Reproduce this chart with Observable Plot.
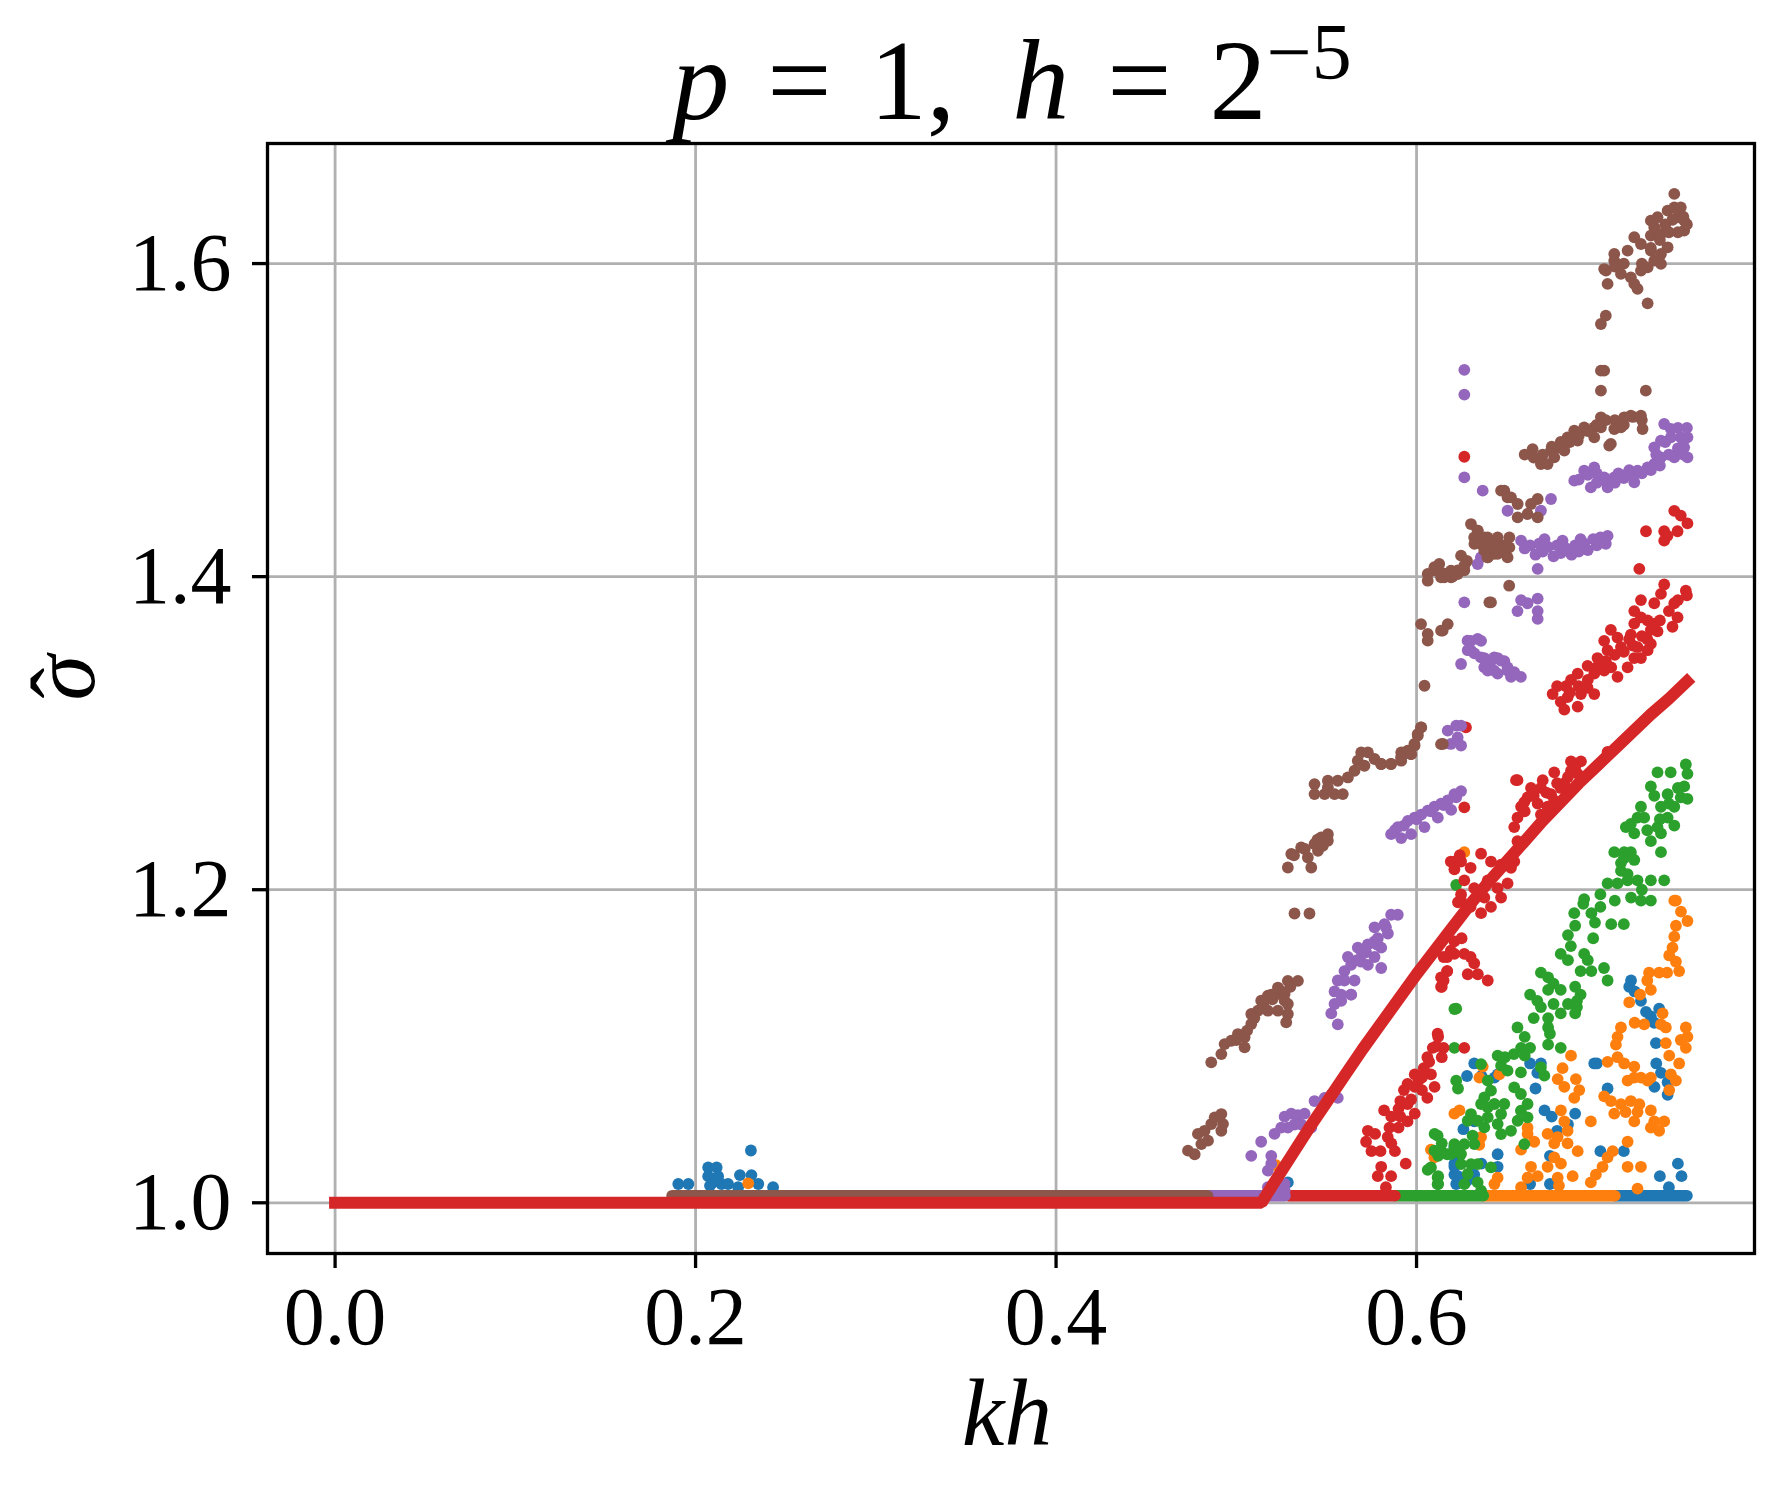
<!DOCTYPE html>
<html><head><meta charset="utf-8">
<script src="https://cdn.jsdelivr.net/npm/d3@7"></script>
<script src="https://cdn.jsdelivr.net/npm/@observablehq/plot@0.6"></script>
<style>body{margin:0;background:#fff}</style>
</head><body><div id="chart"></div>
<script>
const xTicks = [0, 0.2, 0.4, 0.6];
const yTicks = [1.0, 1.2, 1.4, 1.6];
const seriesNames = ["blue", "orange", "green", "red", "purple", "brown"];
const seriesColors = ["#1f77b4", "#ff7f0e", "#2ca02c", "#d62728", "#9467bd", "#8c564b"];
// dense runs of points sitting just above sigma = 1
const bandLevel = 1.0045;
const bandStart = [0.710, 0.637, 0.588, 0.529, 0.485, 0.187];
const bandEnd   = [0.750, 0.710, 0.637, 0.588, 0.527, 0.484];

const blue = [[0.1904,1.012],[0.196,1.012],[0.207,1.0226],[0.2117,1.0226],[0.207,1.017],[0.2125,1.017],[0.2098,1.013],[0.208,1.011],[0.2144,1.012],[0.218,1.012],[0.2236,1.010],[0.2246,1.0177],[0.231,1.0177],[0.2307,1.0334],[0.2348,1.012],[0.243,1.010],
[0.5286,1.013],[0.621,1.025],[0.621,1.018],[0.622,1.012],
[0.719,1.142],[0.718,1.138],[0.721,1.135],[0.7245,1.129],[0.7273,1.122],[0.73,1.119],[0.7319,1.115],[0.7346,1.124],[0.7328,1.102],
[0.700,1.089],[0.6986,1.089],[0.733,1.089],[0.7356,1.083],[0.7393,1.077],[0.7393,1.069],[0.706,1.073],[0.732,1.074],
[0.632,1.089],[0.628,1.081],[0.636,1.081],[0.663,1.089],[0.667,1.083],[0.666,1.073],[0.669,1.089],[0.645,1.082],[0.6432,1.080],
[0.671,1.059],[0.675,1.055],[0.678,1.046],[0.684,1.050],[0.688,1.057],[0.626,1.047],[0.632,1.052],
[0.621,1.036],[0.623,1.029],[0.621,1.023],[0.623,1.017],[0.628,1.014],[0.632,1.018],[0.636,1.025],[0.645,1.031],[0.645,1.023],
[0.663,1.012],[0.674,1.012],[0.702,1.033],[0.715,1.033],[0.745,1.025],[0.747,1.017],[0.735,1.017],[0.740,1.010],[0.674,1.030]];

const orange = [[0.522,1.024],[0.2292,1.0124],[0.6265,1.224],[0.743,1.193],
[0.7439,1.193],[0.7467,1.186],[0.7503,1.180],[0.7439,1.177],[0.743,1.170],[0.742,1.163],[0.7402,1.158],[0.7439,1.154],[0.7457,1.148],
[0.739,1.147],[0.7346,1.147],[0.729,1.147],[0.728,1.142],[0.730,1.136],[0.724,1.133],[0.718,1.128],
[0.7365,1.121],[0.7383,1.112],[0.7383,1.102],[0.7356,1.114],[0.721,1.115],[0.7263,1.114],[0.7134,1.112],[0.7115,1.106],[0.7106,1.101],
[0.7494,1.112],[0.7503,1.106],[0.7494,1.099],[0.7466,1.104],[0.7402,1.094],[0.7457,1.089],[0.7411,1.082],[0.7439,1.078],[0.7402,1.072],
[0.706,1.090],[0.7115,1.093],[0.7152,1.089],[0.7208,1.087],[0.7208,1.080],[0.7245,1.080],[0.7171,1.078],[0.7282,1.078],[0.73,1.080],
[0.7041,1.068],[0.7078,1.065],[0.7134,1.063],[0.7189,1.065],[0.7236,1.063],[0.7097,1.057],[0.716,1.058],[0.7226,1.058],[0.73,1.059],[0.7319,1.052],[0.7374,1.052],[0.7346,1.046],[0.73,1.048],[0.7208,1.052],
[0.6857,1.094],[0.681,1.086],[0.6783,1.079],[0.682,1.074],[0.6875,1.067],[0.6903,1.072],[0.6884,1.079],
[0.6801,1.059],[0.682,1.052],[0.6838,1.046],[0.6783,1.042],[0.6838,1.038],[0.6894,1.033],[0.6727,1.044],[0.6764,1.038],
[0.6967,1.052],[0.7171,1.039],[0.7088,1.033],[0.706,1.029],[0.7032,1.023],[0.6995,1.018],[0.6967,1.013],
[0.7171,1.023],[0.7245,1.023],[0.7226,1.009],[0.6764,1.029],[0.6801,1.025],[0.6727,1.023],[0.6783,1.016],[0.6866,1.017],[0.679,1.011],
[0.6635,1.023],[0.6616,1.016],[0.658,1.010],[0.6672,1.017],[0.6432,1.012],[0.645,1.016],[0.621,1.057],[0.6238,1.059],
[0.6367,1.087],[0.6349,1.080],[0.6459,1.082],[0.6616,1.044],[0.6616,1.048],[0.658,1.034],[0.6653,1.039],[0.608,1.034],[0.6099,1.029],[0.6348,1.037],[0.6358,1.042]];

const green = [[0.7494,1.280],[0.7503,1.274],[0.7485,1.266],[0.741,1.275],[0.7337,1.275],[0.73,1.266],[0.7319,1.260],[0.7393,1.261],[0.7466,1.259],[0.7503,1.258],
[0.7356,1.253],[0.743,1.253],[0.7393,1.246],[0.743,1.241],[0.7356,1.236],[0.7337,1.240],[0.73,1.231],[0.7356,1.224],
[0.7245,1.253],[0.7226,1.246],[0.7189,1.242],[0.7161,1.240],[0.7208,1.236],[0.7263,1.246],
[0.7097,1.224],[0.7152,1.224],[0.7189,1.224],[0.7208,1.219],[0.7134,1.217],[0.7134,1.212],[0.7171,1.210],[0.706,1.204],[0.7115,1.204],[0.7171,1.206],[0.7226,1.206],[0.73,1.206],[0.7374,1.206],
[0.693,1.194],[0.702,1.197],[0.715,1.22],[0.725,1.20],[0.735,1.245],[0.745,1.265],[0.740,1.255],[0.728,1.238],
[0.7245,1.193],[0.730,1.193],[0.719,1.195],[0.710,1.193],[0.702,1.189],[0.697,1.185],[0.699,1.179],[0.708,1.178],[0.715,1.178],[0.6925,1.191],[0.6875,1.185],[0.688,1.177],[0.684,1.171],[0.698,1.169],[0.6856,1.164],[0.680,1.159],[0.684,1.155],[0.693,1.159],[0.695,1.155],[0.691,1.148],[0.697,1.148],[0.704,1.150],[0.706,1.142],
[0.669,1.147],[0.673,1.144],[0.676,1.140],[0.673,1.136],[0.680,1.136],[0.688,1.138],[0.691,1.133],[0.663,1.133],[0.667,1.129],[0.676,1.127],[0.684,1.127],[0.689,1.125],[0.669,1.125],[0.665,1.118],[0.673,1.118],[0.680,1.121],[0.688,1.121],[0.689,1.129],
[0.656,1.112],[0.660,1.106],[0.663,1.099],[0.658,1.099],[0.654,1.095],[0.660,1.094],[0.673,1.112],[0.674,1.108],[0.673,1.101],[0.680,1.099],[0.649,1.093],[0.645,1.094],
[0.622,1.124],[0.621,1.099],
[0.6358,1.0886],[0.6395,1.078],[0.6413,1.0716],[0.6469,1.0876],[0.6505,1.0844],[0.6579,1.0833],[0.669,1.0865],[0.6709,1.0812],[0.6542,1.0737],[0.6579,1.0695],[0.6616,1.0631],[0.6579,1.0588],[0.6616,1.0546],[0.6561,1.0524],[0.6376,1.0673],[0.6395,1.0609],[0.6358,1.0631],[0.6432,1.0631],[0.6487,1.0631],[0.6469,1.0567],[0.645,1.0503],[0.6376,1.0482],[0.6302,1.0567],[0.6339,1.0524],[0.6284,1.0524],[0.6395,1.0546],[0.6469,1.0439],[0.6524,1.046],[0.6598,1.0375],[0.6311,1.0429],[0.6265,1.0375],[0.6247,1.0311],[0.6321,1.0375],[0.6117,1.0429],[0.6099,1.0333],[0.6136,1.0333],[0.6191,1.0311],[0.608,1.0226],[0.6117,1.0162],[0.6117,1.0119],[0.621,1.0375],[0.6247,1.0247],[0.6302,1.0247],[0.6339,1.0247],[0.6284,1.0184],[0.6265,1.0119],[0.6339,1.013],[0.6413,1.0226],[0.6358,1.0077],
[0.621,1.1238],[0.622,1.078],[0.623,1.073],[0.610,1.044],[0.614,1.038],[0.617,1.031],[0.612,1.030],[0.6062,1.021],[0.612,1.017],[0.612,1.012],[0.621,1.035],[0.622,1.203]];

const red = [[0.573,1.046],[0.572,1.039],[0.575,1.033],[0.580,1.033],[0.577,1.044],[0.584,1.042],[0.586,1.038],[0.588,1.033],[0.582,1.059],[0.586,1.055],[0.590,1.048],[0.591,1.055],[0.595,1.052],[0.599,1.057],[0.591,1.065],[0.593,1.072],[0.595,1.076],[0.599,1.082],[0.603,1.072],[0.606,1.067],[0.601,1.078],[0.604,1.086],[0.606,1.093],[0.609,1.099],[0.612,1.106],[0.608,1.082],[0.610,1.074],[0.614,1.093],[0.615,1.099],[0.599,1.074],[0.595,1.063],
[0.597,1.066],[0.603,1.080],[0.607,1.090],[0.611,1.100],[0.590,1.060],[0.585,1.048],
[0.5804,1.023],[0.5785,1.017],[0.5859,1.017],[0.583,1.010],[0.594,1.025],
[0.614,1.138],[0.621,1.218],[0.621,1.213],[0.624,1.222],[0.623,1.192],[0.619,1.161],[0.615,1.157],[0.617,1.148],[0.615,1.142],[0.621,1.167],[0.625,1.169],
[0.6247,1.193],[0.630,1.189],[0.6358,1.185],[0.6413,1.189],[0.6469,1.195],[0.6376,1.195],
[0.617,1.157],[0.621,1.159],[0.6265,1.159],[0.630,1.157],[0.632,1.153],[0.634,1.146],[0.6395,1.142],[0.6136,1.144],[0.6136,1.138],[0.617,1.148],[0.6284,1.146],
[0.6265,1.099],[0.6117,1.108],
[0.619,1.218],[0.6247,1.218],[0.630,1.214],[0.6358,1.223],[0.6413,1.218],[0.6469,1.216],[0.6524,1.214],[0.6542,1.218],[0.6265,1.206],[0.632,1.201],[0.6395,1.206],[0.645,1.201],[0.6505,1.204],[0.6247,1.197],
[0.656,1.231],[0.6542,1.240],[0.656,1.246],[0.658,1.253],[0.6616,1.259],[0.6635,1.265],[0.669,1.265],[0.6746,1.261],[0.680,1.265],[0.6672,1.255],[0.6727,1.253],[0.6764,1.257],[0.669,1.248],[0.656,1.270],[0.6764,1.275],[0.6857,1.282],[0.6912,1.282],[0.6857,1.276],[0.6894,1.274],[0.682,1.268],[0.706,1.288],[0.6598,1.256],[0.6552,1.270],
[0.665,1.260],[0.672,1.262],[0.678,1.268],[0.684,1.272],[0.660,1.250],[0.670,1.270],[0.688,1.278],
[0.6755,1.325],[0.6829,1.330],[0.6838,1.323],[0.682,1.315],[0.6894,1.317],[0.6912,1.325],[0.6949,1.329],[0.6986,1.325],[0.6894,1.338],[0.6949,1.343],[0.7004,1.348],[0.706,1.353],[0.7041,1.359],[0.7078,1.366],[0.7115,1.361],[0.7134,1.355],[0.7115,1.336],[0.7171,1.342],[0.7208,1.348],[0.7226,1.355],[0.7282,1.353],[0.7245,1.348],[0.73,1.357],[0.7189,1.363],[0.7208,1.370],[0.7245,1.374],[0.7282,1.372],[0.7319,1.370],[0.7337,1.365],[0.7208,1.378],[0.7245,1.385],[0.7319,1.383],[0.7356,1.389],[0.7374,1.395],[0.743,1.383],[0.7448,1.374],[0.7494,1.391],[0.6986,1.338],[0.7041,1.340],[0.6857,1.334],
[0.680,1.320],[0.685,1.326],[0.690,1.330],[0.695,1.334],[0.700,1.342],[0.705,1.346],[0.710,1.350],[0.715,1.352],[0.720,1.356],[0.725,1.362],[0.730,1.366],[0.735,1.372],[0.740,1.378],[0.745,1.385],[0.750,1.388],[0.678,1.330],[0.708,1.342],[0.718,1.360],[0.728,1.360],[0.742,1.368],
[0.7236,1.405],[0.7374,1.423],
[0.6265,1.4766],[0.743,1.442],[0.7466,1.439],[0.7503,1.434],[0.7374,1.429],[0.7392,1.426],[0.7448,1.429],[0.7273,1.429],
[0.6274,1.3037],[0.6265,1.2526]];

const purple = [[0.5083,1.030],[0.5138,1.039],[0.5194,1.030],[0.5212,1.044],[0.5249,1.048],[0.5268,1.055],[0.5305,1.057],[0.5342,1.056],[0.5379,1.057],[0.5434,1.065],[0.549,1.067],[0.5527,1.069],[0.5563,1.067],[0.5286,1.048],[0.5323,1.050],[0.536,1.050],[0.5416,1.048],[0.5175,1.0205],[0.5194,1.025],[0.5231,1.016],[0.5212,1.013],[0.5268,1.012],[0.5268,1.008],[0.5231,1.008],[0.5175,1.010],
[0.5582,1.133],[0.5545,1.127],[0.5527,1.121],[0.5563,1.114],[0.5637,1.133],
[0.5582,1.129],[0.5545,1.135],[0.5563,1.142],[0.56,1.148],[0.5637,1.152],[0.5619,1.157],[0.5674,1.163],[0.5693,1.161],[0.573,1.165],[0.5767,1.167],[0.5785,1.169],[0.5804,1.163],[0.5767,1.157],[0.573,1.152],[0.5804,1.150],[0.5841,1.172],[0.5822,1.178],[0.5859,1.184],[0.5896,1.184],[0.5767,1.176],[0.5693,1.154],[0.5656,1.142],[0.5637,1.133],
[0.560,1.142],[0.567,1.155],[0.572,1.160],[0.578,1.165],[0.583,1.176],
[0.5859,1.2355],[0.5896,1.240],[0.5952,1.244],[0.5989,1.246],[0.6026,1.248],[0.6062,1.2505],[0.6099,1.253],[0.6136,1.255],[0.6173,1.257],[0.621,1.261],[0.6247,1.263],[0.5915,1.233],[0.597,1.2355],[0.6044,1.240],[0.6118,1.246],[0.6192,1.251],
[0.588,1.238],[0.593,1.241],[0.600,1.245],[0.608,1.250],[0.615,1.254],[0.622,1.259],
[0.6173,1.3016],[0.622,1.3048],[0.6247,1.3048],[0.6228,1.2973],[0.619,1.2931],[0.6247,1.2921],[0.6247,1.3442],[0.6265,1.3836],
[0.6283,1.3591],[0.6339,1.3602],[0.6302,1.3527],[0.6357,1.3484],[0.6394,1.3442],[0.6431,1.3484],[0.6468,1.3463],[0.6505,1.34],[0.6431,1.34],[0.6376,1.3421],
[0.6357,1.4123],[0.6339,1.408],
[0.6302,1.359],[0.6358,1.359],[0.6284,1.353],[0.6321,1.351],[0.6376,1.348],[0.6413,1.346],[0.645,1.348],[0.6487,1.346],[0.6505,1.342],[0.6542,1.339],[0.6579,1.336],[0.6395,1.340],[0.645,1.338],[0.6524,1.336],
[0.658,1.385],[0.656,1.378],[0.6616,1.383],[0.6672,1.386],[0.6672,1.378],[0.6672,1.373],[0.6672,1.405],
[0.6265,1.5321],[0.6265,1.5163],[0.6265,1.4634],[0.6367,1.4549],[0.6746,1.4496],[0.6505,1.4421],[0.669,1.4421],
[0.658,1.423],[0.663,1.420],[0.668,1.421],[0.673,1.419],[0.678,1.420],[0.683,1.418],[0.688,1.420],[0.693,1.421],[0.698,1.424],[0.702,1.425],[0.706,1.426],[0.666,1.414],[0.676,1.413],[0.686,1.414],
[0.660,1.418],[0.670,1.416],[0.680,1.415],[0.690,1.416],[0.700,1.420],[0.695,1.417],[0.705,1.421],[0.671,1.424],[0.681,1.423],[0.691,1.424],
[0.6875,1.4613],[0.693,1.4677],[0.6986,1.4698],[0.7041,1.4634],[0.7097,1.4634],[0.7171,1.4656],[0.7226,1.4677],[0.7282,1.4698],[0.7319,1.472],[0.7356,1.4762],[0.7319,1.4826],[0.7356,1.4869],[0.7411,1.489],[0.7466,1.489],[0.7503,1.489],[0.7485,1.4826],[0.7503,1.4762],[0.743,1.4762],[0.7374,1.4975],[0.7411,1.4943],[0.6967,1.457],[0.706,1.457],[0.7208,1.4603],
[0.690,1.462],[0.695,1.465],[0.700,1.466],[0.705,1.461],[0.710,1.460],[0.715,1.463],[0.720,1.464],[0.725,1.466],[0.730,1.468],[0.735,1.471],[0.740,1.478],[0.745,1.482],[0.748,1.487],[0.738,1.486],[0.733,1.478],[0.700,1.460],[0.712,1.466],[0.718,1.468],[0.745,1.495],[0.750,1.495],[0.748,1.478]];

const brown = [[0.4732,1.0333],[0.4769,1.031],[0.4806,1.0375],[0.4787,1.044],[0.4824,1.046],[0.4861,1.0503],[0.488,1.0546],[0.4917,1.0567],[0.4926,1.0503],[0.4917,1.046],[0.4843,1.0397],
[0.4861,1.0897],[0.4917,1.095],[0.4935,1.1014],[0.4972,1.1035],[0.5009,1.1078],[0.5046,1.1057],[0.5046,1.0993],[0.5083,1.1142],[0.5083,1.1206],[0.512,1.1227],[0.5138,1.1291],[0.5175,1.1323],[0.5231,1.1334],[0.5268,1.1291],[0.5286,1.1206],[0.5277,1.1153],[0.5231,1.1227],[0.5175,1.1227],
[0.500,1.104],[0.506,1.110],[0.510,1.118],[0.515,1.125],[0.520,1.130],[0.525,1.135],[0.530,1.138],
[0.5157,1.129],[0.5194,1.133],[0.5231,1.1375],[0.5286,1.1418],[0.5342,1.1418],[0.5268,1.1333],[0.5286,1.127],
[0.5323,1.1848],[0.5406,1.1848],
[0.5286,1.2142],[0.5416,1.2142],[0.5305,1.2228],[0.536,1.227],[0.5397,1.2206],[0.5434,1.2292],[0.5471,1.2334],[0.5508,1.2355],[0.5508,1.2313],[0.5453,1.2249],
[0.532,1.222],[0.538,1.226],[0.545,1.232],[0.548,1.228],
[0.5434,1.2675],[0.5434,1.2611],[0.549,1.2611],[0.5545,1.2611],[0.5591,1.2611],[0.5508,1.2696],[0.5563,1.2696],[0.5619,1.2717],[0.5656,1.276],[0.5674,1.2824],[0.5693,1.2877],[0.573,1.2877],[0.5767,1.2835],[0.5804,1.2803],[0.5859,1.2803],[0.5915,1.2824],[0.5915,1.2877],[0.597,1.2866],[0.5989,1.2920],[0.6007,1.2984],[0.6026,1.3037],[0.6044,1.3303],[0.6146,1.2931],[0.5711,1.2792],[0.5508,1.2653],
[0.6025,1.3697],[0.6062,1.3634],[0.6062,1.3591],[0.6145,1.3655],[0.6173,1.3697],
[0.6062,1.3974],[0.6099,1.404],[0.6126,1.4081],[0.6154,1.3996],[0.6191,1.3996],[0.6228,1.404],[0.6265,1.404],[0.6247,1.4134],[0.6302,1.4336],[0.6339,1.4294],[0.6357,1.4208],[0.6394,1.4251],[0.6431,1.4208],[0.6431,1.4145],[0.6394,1.4123],[0.6468,1.4166],[0.6505,1.4123],[0.6505,1.4187],[0.6487,1.4549],[0.6524,1.4506],[0.6514,1.3942],[0.6404,1.3836],[0.632,1.4251],[0.6376,1.4166],
[0.615,1.402],[0.620,1.400],[0.628,1.410],[0.635,1.425],[0.642,1.418],[0.648,1.420],[0.645,1.425],
[0.5803,1.2803],[0.5858,1.2803],[0.5914,1.2845],[0.5951,1.2888],[0.5988,1.2931],[0.6006,1.2994],[0.6025,1.3037],[0.5969,1.2866],
[0.6339,1.4294],[0.6376,1.4251],[0.6413,1.4208],[0.645,1.4187],[0.6515,1.4251],[0.6515,1.4187],
[0.6469,1.4549],[0.6505,1.4506],[0.6561,1.4464],[0.6561,1.4379],[0.6616,1.44],[0.6672,1.4379],[0.6672,1.4496],[0.6635,1.4464],
[0.6644,1.4815],[0.669,1.4719],[0.6746,1.4805],[0.6783,1.4826],[0.6838,1.489],[0.6875,1.4933],[0.693,1.4954],[0.6986,1.4954],[0.7023,1.5018],[0.7023,1.4954],[0.6986,1.489],[0.6894,1.4869],[0.682,1.4805],[0.6727,1.4719],[0.6764,1.4762],
[0.665,1.476],[0.670,1.478],[0.675,1.483],[0.680,1.486],[0.685,1.486],[0.690,1.490],[0.695,1.493],[0.700,1.497],[0.705,1.500],[0.710,1.500],[0.715,1.497],[0.720,1.502],[0.725,1.500],[0.660,1.478],
[0.7097,1.4943],[0.7134,1.4954],[0.7078,1.4848],[0.7069,1.4837],[0.7152,1.5018],[0.7189,1.5028],[0.7245,1.5028],[0.7254,1.4943],
[0.7023,1.5188],[0.7023,1.5316],[0.7041,1.5316],[0.7272,1.5188],[0.7023,1.5614],[0.705,1.5667],[0.7282,1.5746],
[0.7051,1.5955],[0.706,1.587],[0.7134,1.5934],[0.7208,1.587],[0.7226,1.5838],[0.7189,1.5912],[0.7245,1.5955],[0.7282,1.5976],[0.7319,1.6019],[0.7356,1.5998],[0.7097,1.6061],[0.7171,1.6083],[0.7208,1.6168],[0.7245,1.6125],[0.73,1.6083],[0.73,1.6179],[0.7319,1.6232],[0.73,1.6274],[0.7337,1.6296],[0.7393,1.6338],[0.743,1.6359],[0.7466,1.6359],[0.7448,1.6296],[0.7485,1.6274],[0.7485,1.6211],[0.743,1.6445],[0.7356,1.6189],[0.7393,1.6104],[0.7356,1.6061],[0.7097,1.6019],[0.7041,1.5965],
[0.710,1.598],[0.715,1.600],[0.725,1.600],[0.730,1.610],[0.735,1.615],[0.740,1.620],[0.745,1.620],[0.748,1.630],[0.750,1.625],[0.742,1.628],[0.738,1.625],
[0.6062,1.4017],[0.6099,1.406],[0.6136,1.3996],[0.6191,1.4038],[0.6228,1.4017],[0.6265,1.407],[0.6321,1.4209],[0.6395,1.4166],[0.645,1.4145],[0.6505,1.4188],[0.6395,1.4124],[0.6413,1.3836],[0.6136,1.3655],[0.6136,1.293]];

// reference curve (thick red line)
const curveX = [0, 0.514, 0.52, 0.53, 0.54, 0.55, 0.56, 0.57, 0.58, 0.59, 0.60, 0.61, 0.62, 0.63, 0.64, 0.65, 0.66, 0.67, 0.68, 0.69, 0.70, 0.71, 0.72, 0.73, 0.74, 0.75];
const curveY = [1.0, 1.0, 1.011, 1.029, 1.047, 1.064, 1.081, 1.098, 1.114, 1.130, 1.146, 1.161, 1.176, 1.191, 1.205, 1.218, 1.231, 1.244, 1.256, 1.268, 1.279, 1.290, 1.301, 1.312, 1.322, 1.333];

const seriesPoints = [blue, orange, green, red, purple, brown];
const curve = curveX.map((x, i) => ({x, y: curveY[i]}));
const FONT = "'Liberation Serif', 'DejaVu Serif', serif";

const seriesMarks = [];
seriesNames.forEach((name, i) => {
  const c = seriesColors[i];
  seriesMarks.push(Plot.link([{x1: bandStart[i], x2: bandEnd[i], y: bandLevel}], {
    x1: "x1", x2: "x2", y1: "y", y2: "y", stroke: c, strokeWidth: 11.7, strokeLinecap: "round"
  }));
  seriesMarks.push(Plot.dot(seriesPoints[i], {x: d => d[0], y: d => d[1], r: 5.9, fill: c, stroke: "none"}));
});

const svg = Plot.plot({
  width: 1783, height: 1491,
  marginLeft: 267, marginRight: 29, marginTop: 143, marginBottom: 238,
  style: {fontFamily: FONT, fontSize: "82px", background: "white", color: "black"},
  x: {domain: [-0.0375, 0.7875], axis: null},
  y: {domain: [0.9676, 1.6767], axis: null},
  marks: [
    Plot.ruleX(xTicks, {stroke: "#b0b0b0", strokeWidth: 2.8}),
    Plot.ruleY(yTicks, {stroke: "#b0b0b0", strokeWidth: 2.8}),
    ...seriesMarks,
    Plot.line(curve, {x: "x", y: "y", stroke: "#d62728", strokeWidth: 12, strokeLinecap: "square", strokeLinejoin: "miter"}),
    Plot.frame({stroke: "black", strokeWidth: 3.3}),
    Plot.axisX({ticks: xTicks, tickFormat: d => d.toFixed(1), tickSize: 15, tickPadding: 17, strokeWidth: 3.3, fontSize: 82, fontFamily: FONT, label: null}),
    Plot.axisY({ticks: yTicks, tickFormat: d => d.toFixed(1), tickSize: 15, tickPadding: 21, strokeWidth: 3.3, fontSize: 82, fontFamily: FONT, label: null}),
    Plot.text(["kh"], {frameAnchor: "bottom", lineAnchor: "bottom", dy: 191, dx: -4, fontSize: 96, fontStyle: "italic", fontFamily: FONT}),
    Plot.text(["\u03C3"], {frameAnchor: "left", lineAnchor: "bottom", rotate: -90, dx: -174, dy: 2, fontSize: 92, fontStyle: "italic", fontFamily: FONT}),
    Plot.text(["\u02C6"], {frameAnchor: "left", lineAnchor: "bottom", rotate: -90, dx: -174, dy: 0, fontSize: 92, fontFamily: FONT})
  ]
});

const t = d3.select(svg).append("text")
  .attr("x", 1012).attr("y", 119)
  .attr("text-anchor", "middle")
  .attr("font-family", FONT)
  .attr("font-size", 114)
  .attr("fill", "black")
  .style("white-space", "pre");
t.append("tspan").attr("font-style", "italic").text("p");
t.append("tspan").text("\u2004=\u20041,\u2002");
t.append("tspan").attr("font-style", "italic").text("h");
t.append("tspan").text("\u2004=\u20042");
t.append("tspan").attr("dy", -40).attr("font-size", 80).text("\u22125");

document.getElementById("chart").appendChild(svg);
</script>
</body></html>
